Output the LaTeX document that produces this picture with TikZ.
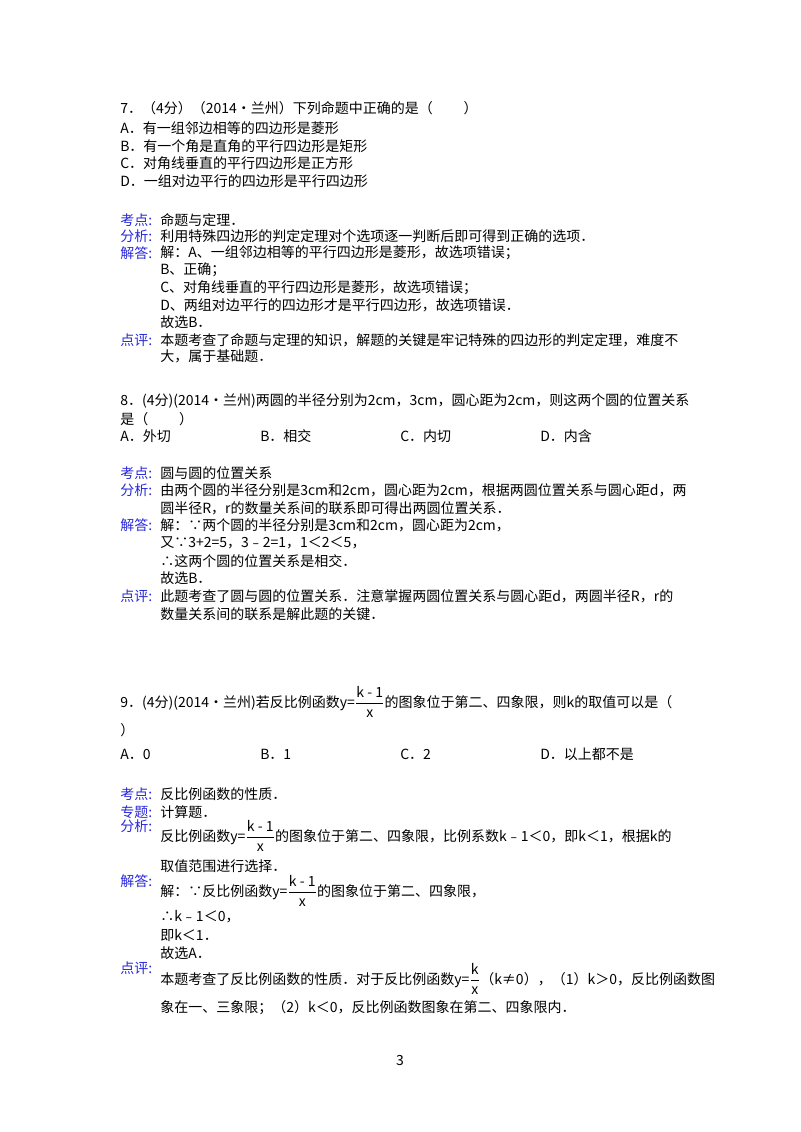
\documentclass[tikz,border=0pt]{standalone}
\usepackage{amsmath}
\usepackage{fontspec}
\setmainfont{Noto Sans CJK SC}
\definecolor{lab}{RGB}{40,40,220}
\newcommand{\fr}[2]{$\genfrac{}{}{0.6pt}{0}{\text{#1}}{\text{#2}}$}
\tikzset{t/.style={anchor=west,inner sep=0pt,font=\fontsize{10.5}{12}\selectfont},
 l/.style={t,text=lab}}
\begin{document}
\begin{tikzpicture}[x=0.75pt,y=-0.75pt]
\useasboundingbox (0,0) rectangle (800,1132);
\node[t] (q7) at (120,108) {7．（4分）（2014•兰州）下列命题中正确的是（\hspace{2.2em}）};
\node[t] (q7a) at (120,128) {A．有一组邻边相等的四边形是菱形};
\node[t] (q7b) at (120,146) {B．有一个角是直角的平行四边形是矩形};
\node[t] (q7c) at (120,163) {C．对角线垂直的平行四边形是正方形};
\node[t] (q7d) at (120,181) {D．一组对边平行的四边形是平行四边形};
\node[l] (k7) at (120,220) {考点:};
\node[t] (k7t) at (160,220) {命题与定理．};
\node[l] (f7) at (120,236) {分析:};
\node[t] (f7t) at (160,236) {利用特殊四边形的判定定理对个选项逐一判断后即可得到正确的选项．};
\node[l] (j7) at (120,253) {解答:};
\node[t] (j7a) at (160,253) {解：A、一组邻边相等的平行四边形是菱形，故选项错误；};
\node[t] (j7b) at (160,270) {B、正确；};
\node[t] (j7c) at (160,288) {C、对角线垂直的平行四边形是菱形，故选项错误；};
\node[t] (j7d) at (160,305) {D、两组对边平行的四边形才是平行四边形，故选项错误．};
\node[t] (j7e) at (160,322) {故选B．};
\node[l] (d7) at (120,340) {点评:};
\node[t] (d7a) at (160,340) {本题考查了命题与定理的知识，解题的关键是牢记特殊的四边形的判定定理，难度不};
\node[t] (d7b) at (160,356) {大，属于基础题．};
\node[t] (q8) at (120,401) {8．(4分)(2014•兰州)两圆的半径分别为2cm，3cm，圆心距为2cm，则这两个圆的位置关系};
\node[t] (q8b) at (120,419) {是（\hspace{2.2em}）};
\node[t] (q8o1) at (120,436) {A．外切};
\node[t] (q8o2) at (260,436) {B．相交};
\node[t] (q8o3) at (400,436) {C．内切};
\node[t] (q8o4) at (540,436) {D．内含};
\node[l] (k8) at (120,473) {考点:};
\node[t] (k8t) at (160,473) {圆与圆的位置关系};
\node[l] (f8) at (120,490) {分析:};
\node[t] (f8a) at (160,490) {由两个圆的半径分别是3cm和2cm，圆心距为2cm，根据两圆位置关系与圆心距d，两};
\node[t] (f8b) at (160,508) {圆半径R，r的数量关系间的联系即可得出两圆位置关系．};
\node[l] (j8) at (120,525) {解答:};
\node[t] (j8a) at (160,525) {解：∵两个圆的半径分别是3cm和2cm，圆心距为2cm，};
\node[t] (j8b) at (160,543) {又∵3+2=5，3﹣2=1，1＜2＜5，};
\node[t] (j8c) at (160,561) {∴这两个圆的位置关系是相交．};
\node[t] (j8d) at (160,578) {故选B．};
\node[l] (d8) at (120,596) {点评:};
\node[t] (d8a) at (160,596) {此题考查了圆与圆的位置关系．注意掌握两圆位置关系与圆心距d，两圆半径R，r的};
\node[t] (d8b) at (160,614) {数量关系间的联系是解此题的关键．};
\node[t] (q9) at (120,702) {9．(4分)(2014•兰州)若反比例函数y=\fr{k - 1}{x}的图象位于第二、四象限，则k的取值可以是（};
\node[t] (q9b) at (120,730) {）};
\node[t] (q9o1) at (120,754) {A．0};
\node[t] (q9o2) at (260,754) {B．1};
\node[t] (q9o3) at (400,754) {C．2};
\node[t] (q9o4) at (540,754) {D．以上都不是};
\node[l] (k9) at (120,794) {考点:};
\node[t] (k9t) at (160,794) {反比例函数的性质．};
\node[l] (z9) at (120,812) {专题:};
\node[t] (z9t) at (160,812) {计算题．};
\node[l] (f9) at (120,826) {分析:};
\node[t] (f9a) at (160,836) {反比例函数y=\fr{k - 1}{x}的图象位于第二、四象限，比例系数k﹣1＜0，即k＜1，根据k的};
\node[t] (f9b) at (160,866) {取值范围进行选择．};
\node[l] (j9) at (120,881) {解答:};
\node[t] (j9a) at (160,891) {解：∵反比例函数y=\fr{k - 1}{x}的图象位于第二、四象限，};
\node[t] (j9b) at (160,917) {∴k﹣1＜0，};
\node[t] (j9c) at (160,935) {即k＜1．};
\node[t] (j9d) at (160,953) {故选A．};
\node[l] (d9) at (120,968) {点评:};
\node[t] (d9a) at (160,979) {本题考查了反比例函数的性质．对于反比例函数y=\fr{k}{x}（k≠0），（1）k＞0，反比例函数图};
\node[t] (d9b) at (160,1008) {象在一、三象限；（2）k＜0，反比例函数图象在第二、四象限内．};
\node[t,anchor=center] (pg) at (400,1060) {3};
\end{tikzpicture}
\end{document}
